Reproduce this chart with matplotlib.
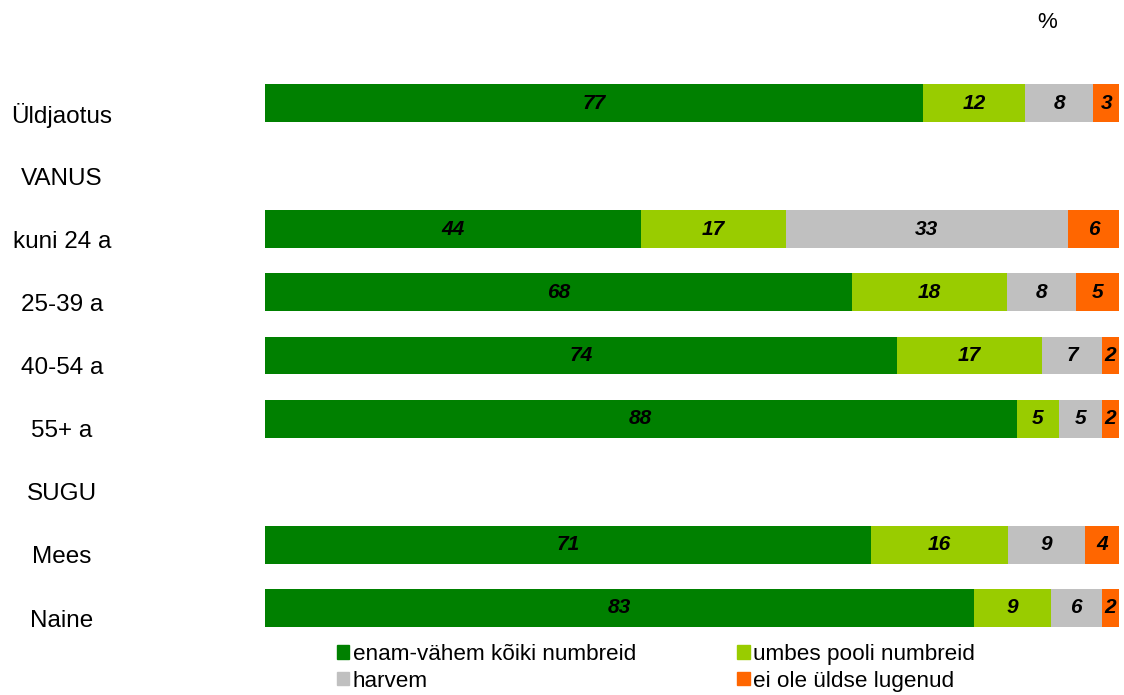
import matplotlib
matplotlib.use('Agg')

import matplotlib.pyplot as plt
from matplotlib.patches import Patch
from matplotlib.transforms import blended_transform_factory

plt.rcParams['font.family'] = ['Liberation Sans', 'DejaVu Sans']

categories = ['Üldjaotus', 'VANUS', 'kuni 24 a', '25-39 a', '40-54 a', '55+ a', 'SUGU', 'Mees', 'Naine']
series = ['enam-vähem kõiki numbreid', 'umbes pooli numbreid', 'harvem', 'ei ole üldse lugenud']
colors = ['#008000', '#99CC00', '#C0C0C0', '#FF6600']

# None = header row without a bar
enam = [77, None, 44, 68, 74, 88, None, 71, 83]
pooli = [12, None, 17, 18, 17, 5, None, 16, 9]
harvem = [8, None, 33, 8, 7, 5, None, 9, 6]
ei_ole = [3, None, 6, 5, 2, 2, None, 4, 2]

fig = plt.figure(figsize=(11.24, 6.95), dpi=100)
ax = fig.add_axes([265/1124, 1 - 639.5/695, (1119 - 265)/1124, (639.5 - 71.5)/695])
label_tr = blended_transform_factory(fig.transFigure, ax.transData)

for i, cat in enumerate(categories):
    # row label sits a bit below the bar centre
    fig.text(62/1124, i + 0.2, cat, fontsize=17.5, ha='center', va='center', transform=label_tr)
    row = [enam[i], pooli[i], harvem[i], ei_ole[i]]
    if row[0] is None:
        continue
    total = sum(row)
    left = 0
    for v, c in zip(row, colors):
        w = v / total * 100
        ax.barh(i, w, left=left, height=0.6, color=c, linewidth=0)
        ax.text(left + w / 2, i, str(v), ha='center', va='center', fontsize=15,
                fontweight='bold', fontstyle='italic', color='black')
        left += w

ax.set_xlim(0, 100)
ax.set_ylim(8.5, -0.5)
ax.axis('off')

fig.text(1047/1124, 1 - 23/695, '%', fontsize=16, ha='center', va='center')

handles = [Patch(color=c) for c in colors]
order = [0, 2, 1, 3]
fig.legend([handles[k] for k in order], [series[k] for k in order], ncol=2,
           loc='upper left', bbox_to_anchor=(337/1124, 1 - 644/695), frameon=False,
           fontsize=16.2, handlelength=0.55, handleheight=0.55, handletextpad=0.15,
           labelspacing=0.25, columnspacing=4.5, borderpad=0, borderaxespad=0)

plt.savefig('out.png', dpi=100)
